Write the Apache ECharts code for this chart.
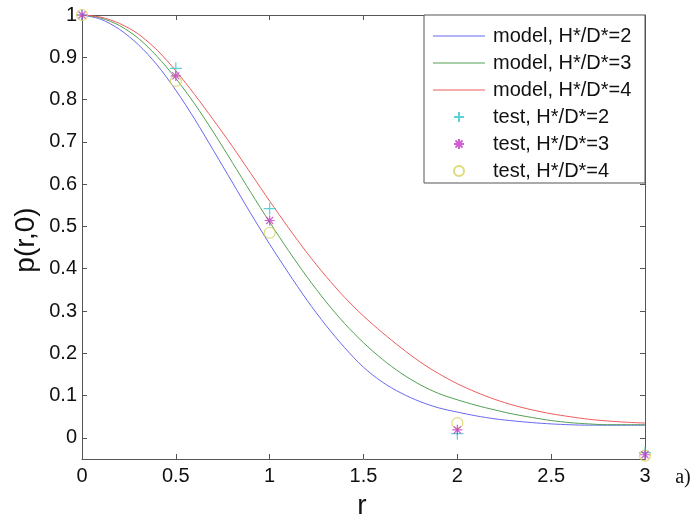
<!DOCTYPE html>
<html>
<head>
<meta charset="utf-8">
<script src="https://cdn.jsdelivr.net/npm/echarts@6/dist/echarts.min.js"></script>
<style>html,body{margin:0;padding:0;background:#fff}#c{width:698px;height:520px}</style>
</head>
<body>
<div id="c"></div>
<script>
var rGrid = [0,0.1,0.2,0.3,0.4,0.5,0.6,0.7,0.8,0.9,1.0,1.1,1.2,1.3,1.4,1.5,1.6,1.7,1.8,1.9,2.0,2.1,2.2,2.3,2.4,2.5,2.6,2.7,2.8,2.9,3.0];
var modelH2 = [1,0.99,0.966,0.93,0.882,0.822,0.754,0.68,0.605,0.53,0.458,0.39,0.325,0.266,0.213,0.167,0.132,0.106,0.086,0.071,0.061,0.052,0.045,0.04,0.036,0.033,0.031,0.03,0.03,0.03,0.03];
var modelH3 = [1,0.993,0.975,0.945,0.902,0.85,0.79,0.723,0.652,0.58,0.51,0.443,0.38,0.322,0.27,0.225,0.186,0.153,0.126,0.105,0.09,0.077,0.066,0.056,0.048,0.041,0.036,0.033,0.031,0.031,0.031];
var modelH4 = [1,0.995,0.98,0.955,0.917,0.868,0.812,0.752,0.69,0.625,0.56,0.497,0.437,0.382,0.332,0.288,0.249,0.213,0.18,0.152,0.128,0.108,0.091,0.077,0.066,0.057,0.05,0.044,0.04,0.037,0.035];
var rTest = [0,0.5,1,2,3];
var testH2 = [1,0.874,0.542,0.01,-0.035];
var testH3 = [1,0.856,0.514,0.019,-0.04];
var testH4 = [1,0.844,0.485,0.035,-0.042];
var yTicks = [0,0.1,0.2,0.3,0.4,0.5,0.6,0.7,0.8,0.9,1];
var names = ['model, H*/D*=2','model, H*/D*=3','model, H*/D*=4','test, H*/D*=2','test, H*/D*=3','test, H*/D*=4'];

function pairs(xs, ys){ return xs.map(function(x,i){ return [x, ys[i]]; }); }

var FONT = 'Liberation Sans, Arial, Helvetica, sans-serif';
var axisCol = '#555';
var plusPath = 'path://M0,-1L0,1M-1,0L1,0';
var starPath = 'path://M0,-1L0,1M-1,0L1,0M-0.7,-0.7L0.7,0.7M-0.7,0.7L0.7,-0.7';
var linePath = 'path://M0,0L52,0L52,1.2L0,1.2Z';

var chart = echarts.init(document.getElementById('c'), null, {renderer:'canvas'});
var labelFmt = function(v){ return String(Math.round(v*10)/10); };
var option = {
  animation: false,
  backgroundColor: '#fff',
  grid: {left: 82, right: 53, top: 15, bottom: 61, containLabel: false},
  xAxis: [{
    type: 'value', min: 0, max: 3, interval: 0.5, position: 'bottom',
    axisLine: {show: true, onZero: false, lineStyle: {color: axisCol, width: 1}},
    axisTick: {show: true, inside: true, length: 5, lineStyle: {color: axisCol}},
    axisLabel: {color: '#111', fontSize: 20, fontFamily: FONT, margin: 7, formatter: labelFmt},
    splitLine: {show: false}
  },{
    type: 'value', min: 0, max: 3, interval: 0.5, position: 'top',
    axisLine: {show: true, onZero: false, lineStyle: {color: axisCol, width: 1}},
    axisTick: {show: true, inside: true, length: 5, lineStyle: {color: axisCol}},
    axisLabel: {show: false}, splitLine: {show: false}
  }],
  yAxis: [{
    type: 'value', min: -0.05, max: 1, position: 'left',
    axisLine: {show: true, onZero: false, lineStyle: {color: axisCol, width: 1}},
    axisTick: {show: true, inside: true, length: 5, lineStyle: {color: axisCol}, customValues: yTicks},
    axisLabel: {color: '#111', fontSize: 20, fontFamily: FONT, margin: 5, customValues: yTicks, formatter: labelFmt},
    splitLine: {show: false}
  },{
    type: 'value', min: -0.05, max: 1, position: 'right',
    axisLine: {show: true, onZero: false, lineStyle: {color: axisCol, width: 1}},
    axisTick: {show: true, inside: true, length: 5, lineStyle: {color: axisCol}, customValues: yTicks},
    axisLabel: {show: false}, splitLine: {show: false}
  }],
  legend: {
    left: 428, top: 21, orient: 'vertical', z: 10,
    itemWidth: 52, itemHeight: 10, itemGap: 7,
    textStyle: {fontSize: 20, fontFamily: FONT, color: '#111', lineHeight: 20, padding: [0,0,0,3]},
    data: [
      {name: names[0], icon: linePath},
      {name: names[1], icon: linePath},
      {name: names[2], icon: linePath},
      names[3], names[4], names[5]
    ]
  },
  graphic: [
    {type: 'rect', z: 5, shape: {x: 424, y: 15, width: 221, height: 168}, style: {fill: '#fff', stroke: axisCol, lineWidth: 1}},
    {type: 'text', x: 26, y: 240, rotation: Math.PI/2, style: {text: 'p(r,0)', font: '28px ' + FONT, fill: '#111', align: 'center', verticalAlign: 'middle'}},
    {type: 'text', x: 362, y: 506, style: {text: 'r', font: '28px ' + FONT, fill: '#111', align: 'center', verticalAlign: 'middle'}},
    {type: 'text', x: 683, y: 478, style: {text: 'a)', font: '20px Liberation Serif, Times New Roman, serif', fill: '#111', align: 'center', verticalAlign: 'middle'}}
  ],
  series: [
    {name: names[0], type: 'line', data: pairs(rGrid, modelH2), symbol: 'none', smooth: 0.3, lineStyle: {color: '#6868f0', width: 1}, itemStyle: {color: '#6868f0'}},
    {name: names[1], type: 'line', data: pairs(rGrid, modelH3), symbol: 'none', smooth: 0.3, lineStyle: {color: '#52a052', width: 1}, itemStyle: {color: '#52a052'}},
    {name: names[2], type: 'line', data: pairs(rGrid, modelH4), symbol: 'none', smooth: 0.3, lineStyle: {color: '#ee5c5c', width: 1}, itemStyle: {color: '#ee5c5c'}},
    {name: names[3], type: 'scatter', data: pairs(rTest, testH2), clip: false, symbol: plusPath, symbolSize: 12, symbolKeepAspect: true, z: 3,
      itemStyle: {color: 'none', borderColor: '#33c6cc', borderWidth: 1.2}},
    {name: names[4], type: 'scatter', data: pairs(rTest, testH3), clip: false, symbol: starPath, symbolSize: 10, symbolKeepAspect: true, z: 4,
      itemStyle: {color: 'none', borderColor: '#c23ac2', borderWidth: 1.2}},
    {name: names[5], type: 'scatter', data: pairs(rTest, testH4), clip: false, symbol: 'circle', symbolSize: 11, z: 3,
      itemStyle: {color: 'none', borderColor: '#d6d25a', borderWidth: 1.2}}
  ]
};
chart.setOption(option);
</script>
</body>
</html>
